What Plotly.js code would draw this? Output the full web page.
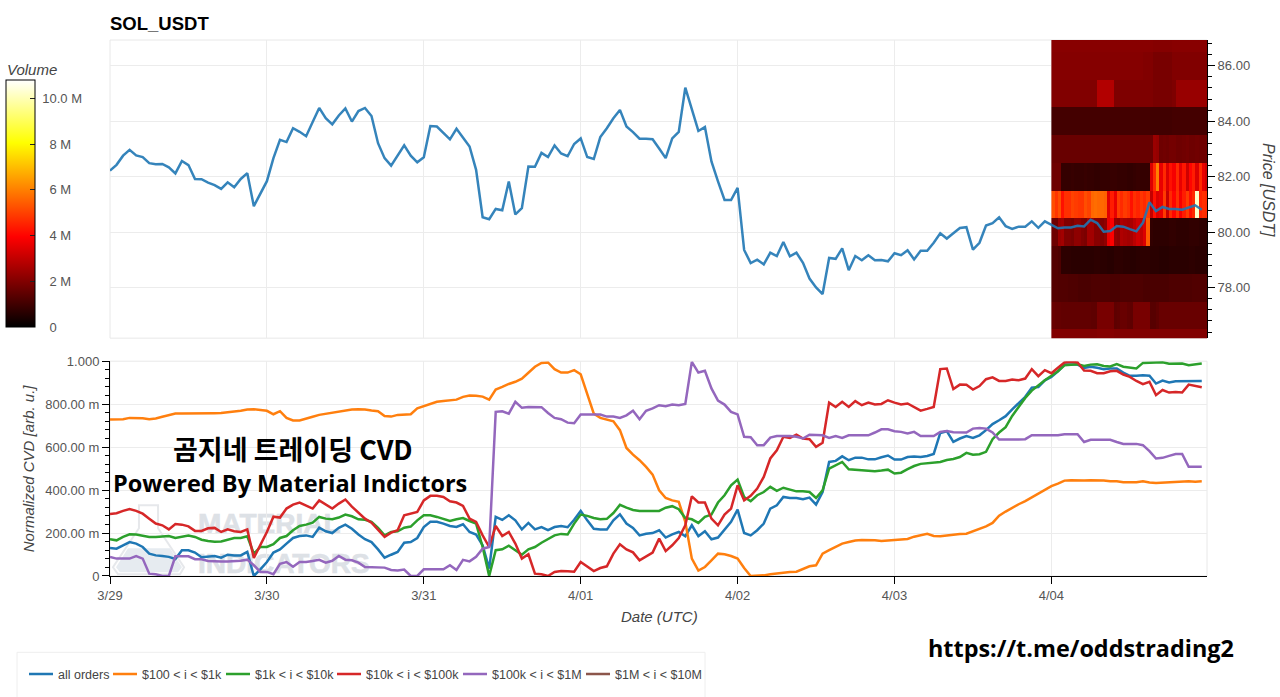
<!DOCTYPE html>
<html><head><meta charset="utf-8">
<script src="https://cdn.plot.ly/plotly-3.0.1.min.js"></script>
<style>html,body{margin:0;padding:0;background:#fff;overflow:hidden}#chart{width:1280px;height:697px}
.shape-label{font-weight:700!important;stroke:#dde1e6;stroke-width:.6px}</style>
</head><body><div id="chart"></div>
<script>
const startTime = Date.UTC(2026,2,29);
const priceUsdt = [82.22,82.43,82.76,82.97,82.77,82.71,82.49,82.45,82.46,82.34,82.12,82.57,82.42,81.92,81.91,81.79,81.70,81.56,81.80,81.62,81.92,82.13,80.94,81.42,
81.84,82.67,83.33,83.25,83.75,83.62,83.46,83.97,84.48,84.11,83.89,84.21,84.46,83.99,84.37,84.48,84.19,83.21,82.67,82.40,82.77,83.13,82.76,82.52,
82.70,83.83,83.81,83.59,83.35,83.73,83.39,83.09,82.25,80.54,80.47,80.84,80.79,81.83,80.64,80.87,82.37,82.36,82.86,82.71,83.13,82.84,82.74,83.18,
83.38,82.71,82.64,83.43,83.75,84.11,84.41,83.81,83.61,83.37,83.37,83.35,83.02,82.67,83.38,83.62,85.21,84.43,83.65,83.79,82.55,81.83,81.16,81.16,
81.60,79.36,78.89,79.01,78.84,79.26,79.14,79.65,79.13,79.26,78.90,78.33,78.01,77.77,79.07,79.04,79.42,78.63,79.14,78.99,79.17,78.99,79.00,78.95,
79.24,79.17,79.35,79.02,79.33,79.33,79.62,79.96,79.77,79.96,80.15,80.18,79.37,79.62,80.24,80.33,80.54,80.22,80.12,80.20,80.20,80.39,80.16,80.39,
80.27,80.14,80.17,80.17,80.23,80.21,80.45,80.33,80.02,80.04,80.22,80.20,80.11,80.03,80.34,81.08,80.76,80.91,80.84,80.84,80.81,80.89,80.97,80.81];
const cvdAll = [.130,.127,.143,.158,.151,.135,.104,.096,.093,.089,.079,.120,.120,.109,.087,.089,.093,.085,.099,.096,.096,.112,0,.031,
.065,.109,.124,.151,.177,.186,.189,.182,.225,.208,.200,.224,.239,.220,.193,.171,.158,.124,.085,.099,.112,.155,.158,.177,
.228,.252,.252,.244,.233,.228,.241,.205,.193,.143,.034,.275,.261,.283,.259,.217,.247,.217,.228,.214,.228,.233,.227,.262,
.303,.259,.220,.216,.216,.259,.287,.244,.224,.189,.197,.200,.213,.179,.194,.205,.185,.236,.185,.208,.171,.179,.213,.252,
.309,.200,.189,.213,.244,.314,.329,.368,.363,.363,.357,.365,.332,.391,.531,.536,.557,.539,.551,.551,.543,.543,.553,.561,
.542,.542,.554,.556,.554,.559,.568,.666,.674,.624,.640,.651,.643,.655,.679,.707,.725,.744,.776,.807,.834,.877,.880,.911,
.927,.953,.984,.984,.984,.969,.974,.969,.963,.966,.966,.947,.932,.932,.935,.932,.896,.910,.901,.907,.907,.908,.908,.908];
const cvd100to1k = [.728,.728,.730,.736,.736,.734,.730,.733,.741,.748,.756,.756,.756,.755,.755,.758,.758,.759,.764,.766,.769,.775,.776,.773,
.769,.753,.767,.736,.724,.724,.731,.741,.750,.755,.759,.762,.769,.775,.776,.775,.770,.767,.745,.742,.750,.752,.753,.780,
.790,.798,.811,.815,.818,.821,.834,.840,.839,.835,.821,.868,.880,.894,.904,.919,.946,.974,.992,.994,.963,.947,.947,.958,
.939,.849,.756,.736,.727,.720,.679,.596,.565,.539,.508,.472,.399,.363,.352,.345,.252,.081,.025,.042,.073,.104,.101,.093,
.081,.037,0,0,.003,.008,.012,.017,.019,.020,.031,.045,.050,.104,.120,.135,.151,.158,.165,.168,.168,.166,.163,.166,
.168,.169,.172,.183,.191,.196,.186,.185,.189,.194,.196,.197,.208,.217,.231,.247,.281,.300,.318,.334,.349,.366,.384,.402,
.418,.430,.444,.446,.444,.444,.446,.446,.444,.441,.441,.436,.436,.436,.441,.435,.433,.435,.436,.439,.441,.441,.439,.441];
const cvd1kto10k = [.171,.166,.182,.194,.193,.186,.182,.182,.183,.186,.177,.182,.188,.182,.169,.163,.160,.161,.169,.177,.177,.185,.104,.135,
.135,.148,.177,.186,.213,.233,.239,.248,.275,.267,.264,.272,.286,.278,.264,.262,.252,.224,.189,.205,.208,.225,.230,.259,
.283,.283,.275,.264,.256,.264,.270,.256,.244,.135,0,.120,.124,.141,.120,.099,.124,.135,.155,.171,.189,.196,.193,.244,
.286,.280,.270,.264,.266,.293,.331,.318,.307,.303,.303,.306,.303,.318,.325,.311,.270,.264,.247,.275,.286,.342,.376,.422,
.449,.368,.348,.376,.391,.415,.396,.411,.402,.394,.394,.391,.363,.399,.500,.516,.531,.497,.494,.491,.488,.488,.491,.495,
.477,.481,.497,.512,.522,.526,.530,.531,.540,.545,.554,.573,.565,.567,.578,.637,.668,.693,.745,.790,.829,.863,.888,.911,
.932,.953,.981,.984,.986,.978,.984,.986,.978,.975,.986,.974,.969,.966,.992,.994,.994,.995,.988,.988,.989,.981,.986,.989];
const cvd10kto100k = [.289,.292,.303,.312,.303,.290,.267,.244,.236,.217,.242,.239,.231,.210,.210,.222,.224,.205,.217,.208,.205,.217,.084,.143,
.205,.276,.272,.314,.332,.342,.329,.314,.352,.332,.314,.337,.356,.323,.293,.267,.248,.213,.182,.202,.213,.283,.292,.298,
.352,.373,.373,.368,.348,.342,.326,.267,.252,.189,.135,.233,.186,.205,.151,.081,.101,.011,.008,0,.019,.023,.022,.020,
.065,.042,.023,.037,.045,.104,.148,.124,.110,.073,.092,.109,.174,.116,.143,.177,.236,.371,.342,.342,.267,.236,.286,.314,
.422,.352,.373,.407,.461,.547,.585,.648,.643,.658,.640,.637,.601,.620,.807,.787,.811,.787,.814,.795,.807,.798,.801,.818,
.807,.798,.803,.787,.770,.778,.787,.963,.966,.870,.891,.890,.868,.884,.916,.925,.908,.908,.915,.911,.919,.963,.930,.958,
.944,.969,.994,.997,.994,.957,.955,.944,.944,.953,.955,.938,.927,.908,.893,.904,.842,.866,.854,.857,.854,.891,.885,.879];
const cvd100kto1M = [.089,.081,.081,.081,.093,.081,.011,.008,0,0,.092,.093,.092,.078,.078,.070,.068,.068,.068,.068,.071,.076,.050,.019,
.019,.008,.057,.065,.043,.065,.065,.070,.075,.062,.071,.093,.076,.073,.062,.042,.042,.039,.039,.028,.026,.030,0,0,
.031,.031,.031,.031,.050,.028,.075,.068,.089,.127,.135,.764,.767,.756,.811,.783,.787,.787,.786,.759,.736,.730,.714,.711,
.752,.752,.752,.752,.742,.742,.736,.748,.769,.730,.769,.780,.795,.790,.798,.795,.801,.997,.947,.955,.873,.817,.798,.764,
.752,.648,.646,.609,.609,.644,.652,.652,.652,.648,.640,.658,.655,.655,.643,.651,.643,.655,.655,.655,.655,.668,.683,.683,
.674,.671,.663,.671,.652,.652,.652,.671,.675,.669,.669,.668,.686,.689,.686,.668,.635,.634,.635,.635,.637,.655,.655,.655,
.655,.655,.660,.660,.660,.624,.634,.634,.634,.634,.624,.615,.615,.615,.609,.581,.547,.550,.559,.568,.568,.508,.508,.508];

const priceBins = [76,77,78,79,80,81,82,83,84,85,86,87];
const vol76 = [2.0,2.0,2.0,2.0,2.0,2.0,2.0,2.0,2.0,2.0,2.0,2.0,2.0,2.0,2.05,2.05,2.05,2.05,2.05,2.0,2.0,2.0,2.0,2.0,2.0,2.0,2.0,2.0,2.0,2.0,2.0,2.0,2.0,2.0,2.0,2.0,2.0,2.0,2.0,2.0,2.0,2.0,2.0,2.0,2.0,2.0,2.0,2.0];
const vol77 = [1.6,1.55,1.55,1.5,1.5,1.5,1.5,1.5,1.5,1.5,1.5,1.5,1.45,1.45,1.85,1.85,1.85,1.85,1.85,1.45,1.5,1.6,1.6,1.5,1.45,1.85,1.85,1.85,1.85,1.85,1.35,1.35,1.45,1.6,1.6,1.6,1.6,1.6,1.6,1.6,1.6,1.6,1.6,1.6,1.6,1.6,1.6,1.6];
const vol78 = [1.3,1.3,1.25,1.25,1.25,1.2,1.2,1.2,1.15,1.15,1.15,1.15,1.2,1.2,1.2,1.2,1.2,1.2,1.15,1.15,1.15,1.2,1.2,1.2,1.2,1.2,1.2,1.2,1.15,1.15,1.15,1.15,1.15,1.15,1.15,1.15,1.2,1.2,1.2,1.2,1.2,1.2,1.2,1.25,1.25,1.25,1.25,1.25];
const vol79 = [1.3,1.3,1.2,.7,.7,.7,.65,.65,.65,.65,.65,.65,.65,.7,.7,.65,.65,.6,.6,.7,.7,.7,.65,.65,.6,.6,.65,.7,.7,.7,.65,.65,.65,.6,.6,.6,.65,.65,.65,.65,.65,.65,.7,.7,.65,.65,.65,.65];
const vol80 = [1.7,1.7,2.4,2.5,2.0,2.0,1.9,2.2,2.2,2.0,1.9,2.5,2.5,2.1,2.1,2.0,2.2,3.6,3.9,2.3,2.2,2.7,2.6,2.5,2.6,2.9,3.2,3.0,3.4,5.4,.75,.7,.7,.7,.7,.7,.75,.75,.7,.7,.7,.7,.75,.75,.75,.7,.7,.7];
const vol81 = [5.2,4.8,5.2,4.2,4.7,4.7,5.0,4.9,4.8,4.8,5.2,5.0,5.6,5.7,5.6,5.6,5.5,3.5,4.4,3.6,4.9,4.6,4.9,4.7,4.2,4.7,4.5,4.8,4.6,4.9,3.0,4.2,3.4,3.6,4.9,3.1,4.6,4.0,4.7,3.8,4.4,4.9,4.2,4.6,10.2,4.5,4.7,4.6];
const vol82 = [1.7,1.7,1.7,.8,.8,.8,.85,.8,.8,.8,.85,.8,.8,.75,.75,.8,.8,.8,.85,.85,.8,.8,.8,.75,.75,.8,.85,.8,.8,.8,3.4,4.6,6.0,3.6,4.6,3.4,4.2,3.8,4.6,3.6,4.3,3.2,4.0,4.4,3.4,4.6,3.6,3.2];
const vol83 = [1.6,1.6,1.6,1.6,1.6,1.6,1.6,1.6,1.6,1.6,1.6,1.6,1.6,1.6,1.6,1.6,1.6,1.6,1.6,1.6,1.6,1.6,1.6,1.6,1.6,1.6,1.6,1.6,1.6,1.6,1.65,2.4,2.3,1.7,1.75,1.7,1.8,1.8,1.7,1.7,1.75,1.8,1.7,1.7,1.75,1.7,1.7,1.7];
const vol84 = [1.05,1.05,1.05,1.05,1.05,1.05,1.05,1.05,1.05,1.05,1.05,1.05,1.05,1.05,1.05,1.05,1.05,1.05,1.05,1.05,1.05,1.05,1.05,1.05,1.05,1.05,1.05,1.05,1.05,1.05,1.0,1.0,1.0,1.0,1.0,1.0,1.0,1.05,1.05,1.05,1.05,1.05,1.05,1.05,1.05,1.05,1.05,1.05];
const vol85 = [2.0,2.0,2.0,2.0,2.0,2.0,2.0,2.0,2.0,2.0,2.0,2.0,2.0,2.0,2.75,2.75,2.75,2.75,2.75,1.95,1.95,1.95,1.95,1.95,1.95,1.95,1.95,1.95,1.95,1.95,1.95,1.85,1.85,1.85,1.85,1.85,1.85,1.95,2.35,2.35,2.35,2.35,2.35,2.35,2.35,2.35,2.35,2.35];
const vol86 = [2.05,2.05,2.05,2.05,2.05,2.05,2.05,2.05,2.05,2.05,2.05,2.05,2.05,2.05,2.05,2.05,2.05,2.05,2.05,2.05,2.05,2.05,2.05,2.05,2.05,2.05,2.05,2.05,2.0,2.0,2.0,1.85,1.85,1.85,1.85,1.85,1.85,2.0,2.0,2.0,2.0,2.0,2.0,2.0,2.0,2.0,2.0,2.0];
const vol87 = [2.1,2.1,2.1,2.1,2.1,2.1,2.1,2.1,2.1,2.1,2.1,2.1,2.1,2.1,2.1,2.1,2.1,2.1,2.1,2.1,2.1,2.1,2.1,2.1,2.1,2.1,2.1,2.1,2.1,2.1,2.1,2.05,2.05,2.05,2.05,2.05,2.05,2.1,2.1,2.1,2.1,2.1,2.1,2.1,2.1,2.1,2.1,2.1];

const seriesNames = ['all orders','$100 < i < $1k','$1k < i < $10k','$10k < i < $100k','$100k < i < $1M','$1M < i < $10M'];
const seriesColors = ['#1f77b4','#ff7f0e','#2ca02c','#d62728','#9467bd','#8c564b'];
const legendTextWidths = [39,68,66,81,78,90];
const volTicks = [0,2,4,6,8,10];
const volLabels = ['\u00a0\u00a0\u00a00','\u00a0\u00a0\u00a02 M','\u00a0\u00a0\u00a04 M','\u00a0\u00a0\u00a06 M','\u00a0\u00a0\u00a08 M','\u00a010.0 M'];
const cvdTicks = [0,.2,.4,.6,.8,1];
const cvdLabels = ['0','200.00 m','400.00 m','600.00 m','800.00 m','1.000'];

const HOUR = 3600e3;
const iso = t => new Date(t).toISOString().slice(0,19).replace('T',' ');
const hours = priceUsdt.map((_,i)=>iso(startTime+i*HOUR));
const heatCols = vol81.map((_,i)=>iso(startTime+144*HOUR+(i+.5)*HOUR/2));
const axisEnd = iso(startTime+(1097/156.9)*24*HOUR);

// page pixels -> paper fractions, for overlays only
const L=110,R=1207,T=40,B=575.7;
const px=x=>(x-L)/(R-L), py=y=>(B-y)/(B-T);
const sans='"Liberation Sans",Arial,sans-serif';
const overlay=(text,x,y,size,family,anchor)=>({xref:'paper',yref:'paper',x:px(x),y:py(y),text:'<b>'+text+'</b>',showarrow:false,xanchor:anchor||'left',yanchor:'middle',font:{size,family,color:'#000'}});
const axisLabel=(text,x,y,size,angle)=>({xref:'paper',yref:'paper',x:px(x),y:py(y),text:'<i>'+text+'</i>',showarrow:false,xanchor:'center',yanchor:'middle',textangle:angle||0,font:{size,family:sans,color:'#444'}});
const wm=(text,x0,y0,x1,y1,size)=>({type:'rect',xref:'paper',yref:'paper',x0:px(x0),x1:px(x1),y0:py(y0),y1:py(y1),layer:'below',line:{width:0},fillcolor:'rgba(0,0,0,0)',label:{text,textposition:'middle left',padding:0,font:{size,weight:700,family:sans,color:'#dde1e6'}}});
const pth=pts=>pts.map((p,i)=>(i?'L':'M')+px(p[0]).toFixed(4)+','+py(p[1]).toFixed(4)).join(' ')+' Z';

const traces=[
 {type:'heatmap',x:heatCols,y:priceBins,z:[vol76,vol77,vol78,vol79,vol80,vol81,vol82,vol83,vol84,vol85,vol86,vol87],xaxis:'x',yaxis:'y',zmin:0,zmax:10.8,showlegend:false,
  colorscale:[[0,'#000000'],[.365,'#ff0000'],[.746,'#ffff00'],[1,'#ffffff']],
  colorbar:{x:px(6),xanchor:'left',xpad:0,ypad:0,y:py(80),yanchor:'top',thickness:29,thicknessmode:'pixels',len:247,lenmode:'pixels',outlinecolor:'#000',outlinewidth:1,borderwidth:0,
    tickmode:'array',tickvals:volTicks,ticktext:volLabels,ticks:'inside',ticklen:5,tickcolor:'#222',tickfont:{size:13,color:'#555',family:sans}}},
 {type:'scatter',mode:'lines',x:hours,y:priceUsdt,xaxis:'x',yaxis:'y',showlegend:false,opacity:.9,line:{color:'#1f77b4',width:2.5}},
];
[cvdAll,cvd100to1k,cvd1kto10k,cvd10kto100k,cvd100kto1M,hours.map(()=>null)].forEach((y,i)=>traces.push({type:'scatter',mode:'lines',x:hours,y,xaxis:'x',yaxis:'y2',name:seriesNames[i],legendwidth:legendTextWidths[i],line:{color:seriesColors[i],width:2.5}}));

const tickF={size:13,color:'#555',family:sans};
const layout={
 width:1280,height:697,paper_bgcolor:'#fff',plot_bgcolor:'#fff',
 margin:{l:L,r:1280-R,t:T,b:697-B,pad:0,autoexpand:false},
 title:{text:'<b>SOL_USDT</b>',xref:'container',yref:'container',x:110/1280,xanchor:'left',y:1-24/697,yanchor:'middle',font:{size:18.5,color:'#000',family:sans}},
 xaxis:{type:'date',anchor:'y2',range:[iso(startTime),axisEnd],dtick:86400000,tick0:iso(startTime),tickformat:'%-m/%d',ticks:'outside',ticklen:7,tickcolor:'#000',tickfont:tickF,showline:true,linecolor:'#000',linewidth:1,showgrid:true,gridcolor:'#ececec',gridwidth:1,zeroline:false},
 yaxis:{domain:[(B-338)/(B-T),1],anchor:'x',side:'right',range:[76.18,86.93],dtick:2,tick0:0,tickformat:'.2f',ticks:'outside',ticklen:7,tickcolor:'#000',tickfont:tickF,showline:true,linecolor:'#000',linewidth:1,showgrid:true,gridcolor:'#ececec',zeroline:false,
   minor:{dtick:.4,tick0:0,ticks:'outside',ticklen:4,tickcolor:'#000',showgrid:false}},
 yaxis2:{domain:[0,(B-361)/(B-T)],anchor:'x',side:'left',range:[0,1],tickmode:'array',tickvals:cvdTicks,ticktext:cvdLabels,ticks:'outside',ticklen:7,tickcolor:'#000',tickfont:tickF,showline:true,linecolor:'#000',linewidth:1,showgrid:true,gridcolor:'#ececec',zeroline:false,
   minor:{dtick:.04,tick0:0,ticks:'outside',ticklen:4,tickcolor:'#000',showgrid:false}},
 legend:{orientation:'h',x:px(18),xanchor:'left',y:py(674),yanchor:'middle',font:{size:12.5,color:'#444',family:sans},bgcolor:'rgba(0,0,0,0)',borderwidth:0,itemwidth:30,traceorder:'normal'},
 shapes:[
  {type:'rect',xref:'paper',yref:'paper',x0:0,x1:1,y0:py(338),y1:1,layer:'below',line:{color:'#e8e8e8',width:1}},
  {type:'rect',xref:'paper',yref:'paper',x0:0,x1:1,y0:0,y1:py(361),layer:'below',line:{color:'#e8e8e8',width:1}},
  {type:'rect',xref:'paper',yref:'paper',x0:px(17),x1:px(705),y0:py(710),y1:py(652),layer:'below',line:{color:'#eeeeee',width:1}},
  wm('MATERIAL',195,506,345,534,28),
  wm('INDICATORS',195,546,372,574,28),
  {type:'path',xref:'paper',yref:'paper',layer:'below',path:pth([[139,505],[158,505],[158,528],[184,567],[180,574],[118,574],[113,567],[139,528]]),line:{color:'#e6e8eb',width:2},fillcolor:'rgba(0,0,0,0)'},
  {type:'path',xref:'paper',yref:'paper',layer:'below',path:pth([[128,548],[170,548],[182,567],[178,572],[120,572],[116,567]]),line:{width:0},fillcolor:'#e6ebf0'},
 ],
 annotations:[
  overlay('곰지네 트레이딩 CVD',293,448,27,'"Noto Sans CJK KR",sans-serif','center'),
  overlay('Powered By Material Indictors',111,483,23.5,'"Open Sans",sans-serif'),
  overlay('https://t.me/oddstrading2',926,648,23.4,'"Open Sans",sans-serif'),
  axisLabel('Volume',32,69.5,15),
  axisLabel('Price [USDT]',1269,190,16,90),
  axisLabel('Normalized CVD [arb. u.]',28,468,15,-90),
  axisLabel('Date (UTC)',659,616,15),
 ],
};
Plotly.newPlot('chart',traces,layout,{displayModeBar:false,staticPlot:true}).then(gd=>{
  gd.querySelectorAll('.legendlines path').forEach(p=>p.setAttribute('d','M11,0h24'));
});
</script></body></html>
